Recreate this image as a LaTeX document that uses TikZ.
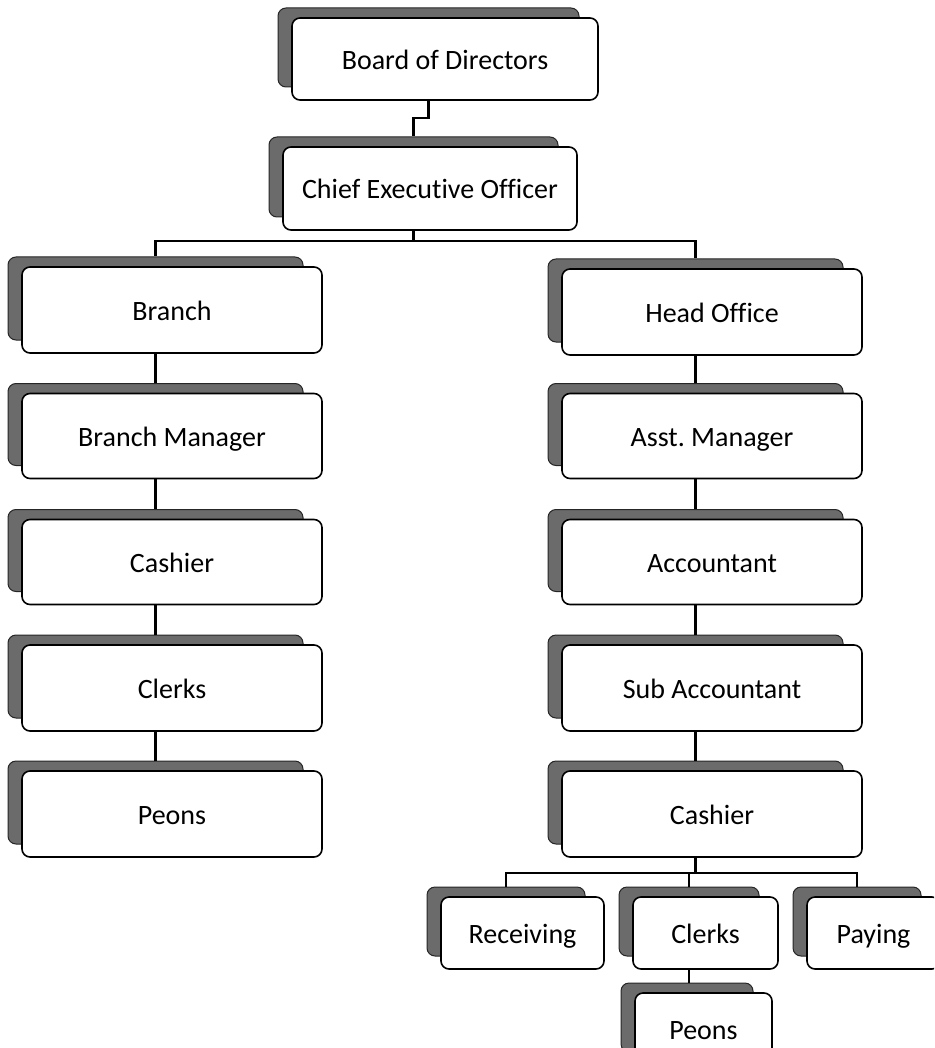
\documentclass[tikz,border=0pt]{standalone}
\usepackage{fontspec}
\setmainfont{Carlito}[Ligatures=NoCommon]
\frenchspacing
\begin{document}
\begin{tikzpicture}[x=1pt,y=-1pt,
  frontbox/.style={draw=black, line width=1.6pt, fill=white, rounded corners=8pt, inner sep=0pt,
    font=\fontsize{28}{33}\selectfont, text height=21pt, text depth=0pt},
  shadowbox/.style={draw=black!85, line width=1pt, fill=black!58, rounded corners=8pt, inner sep=0pt},
  conn/.style={draw=black, line width=2.2pt}]
\useasboundingbox (0,0) rectangle (934,1048);
\clip (0,0) rectangle (934,1048);
\newcommand\obox[6]{%
  \node[shadowbox, minimum width=#4pt-5pt, minimum height=#5pt-3pt] (#1s) at ({#2-16.5},{#3-11.5}) {};
  \node[frontbox, minimum width=#4pt, minimum height=#5pt] (#1) at (#2,#3) {#6};}
% top
\obox{bod}{445}{59}{306}{82}{Board of Directors}
\obox{ceo}{430}{188.5}{294}{83}{Chief Executive Officer}
% left column
\obox{branch}{172}{310}{300}{86}{Branch}
\obox{bm}{172}{436}{300}{85}{Branch Manager}
\obox{cashL}{172}{562}{300}{85}{Cashier}
\obox{clerkL}{172}{688}{300}{86}{Clerks}
\obox{peonL}{172}{814}{300}{86}{Peons}
% right column
\obox{head}{712}{312}{300}{86}{Head Office}
\obox{asst}{712}{436}{300}{85}{Asst. Manager}
\obox{acct}{712}{562}{300}{85}{Accountant}
\obox{sub}{712}{688}{300}{86}{Sub Accountant}
\obox{cashR}{712}{814}{300}{86}{Cashier}
% bottom row
\obox{rec}{522.5}{933}{163}{72}{Receiving}
\obox{clerkR}{705.5}{933}{145}{72}{Clerks}
\obox{pay}{873.5}{933}{133}{72}{Paying}
\obox{peonR}{703.5}{1029}{137}{72}{Peons}
% connectors
\draw[conn] (bods.center |- bod.south) -- ++(0,17) -| (ceos.north);
\draw[conn] (ceos.center |- ceo.south) -- ++(0,10) coordinate (j1);
\draw[conn] (j1) -| (branchs.north);
\draw[conn] (j1) -| (heads.north);
\draw[conn] (branchs.center |- branch.south) -- (bms.north);
\draw[conn] (bms.center |- bm.south) -- (cashLs.north);
\draw[conn] (cashLs.center |- cashL.south) -- (clerkLs.north);
\draw[conn] (clerkLs.center |- clerkL.south) -- (peonLs.north);
\draw[conn] (heads.center |- head.south) -- (assts.north);
\draw[conn] (assts.center |- asst.south) -- (accts.north);
\draw[conn] (accts.center |- acct.south) -- (subs.north);
\draw[conn] (subs.center |- sub.south) -- (cashRs.north);
\draw[conn] (cashRs.center |- cashR.south) -- ++(0,15) coordinate (j2);
\draw[conn] (j2) -| (recs.north);
\draw[conn] (j2) -| (clerkRs.north);
\draw[conn] (j2) -| (pays.north);
\draw[conn] (clerkRs.center |- clerkR.south) -- (clerkRs.center |- peonRs.north);
\end{tikzpicture}
\end{document}
